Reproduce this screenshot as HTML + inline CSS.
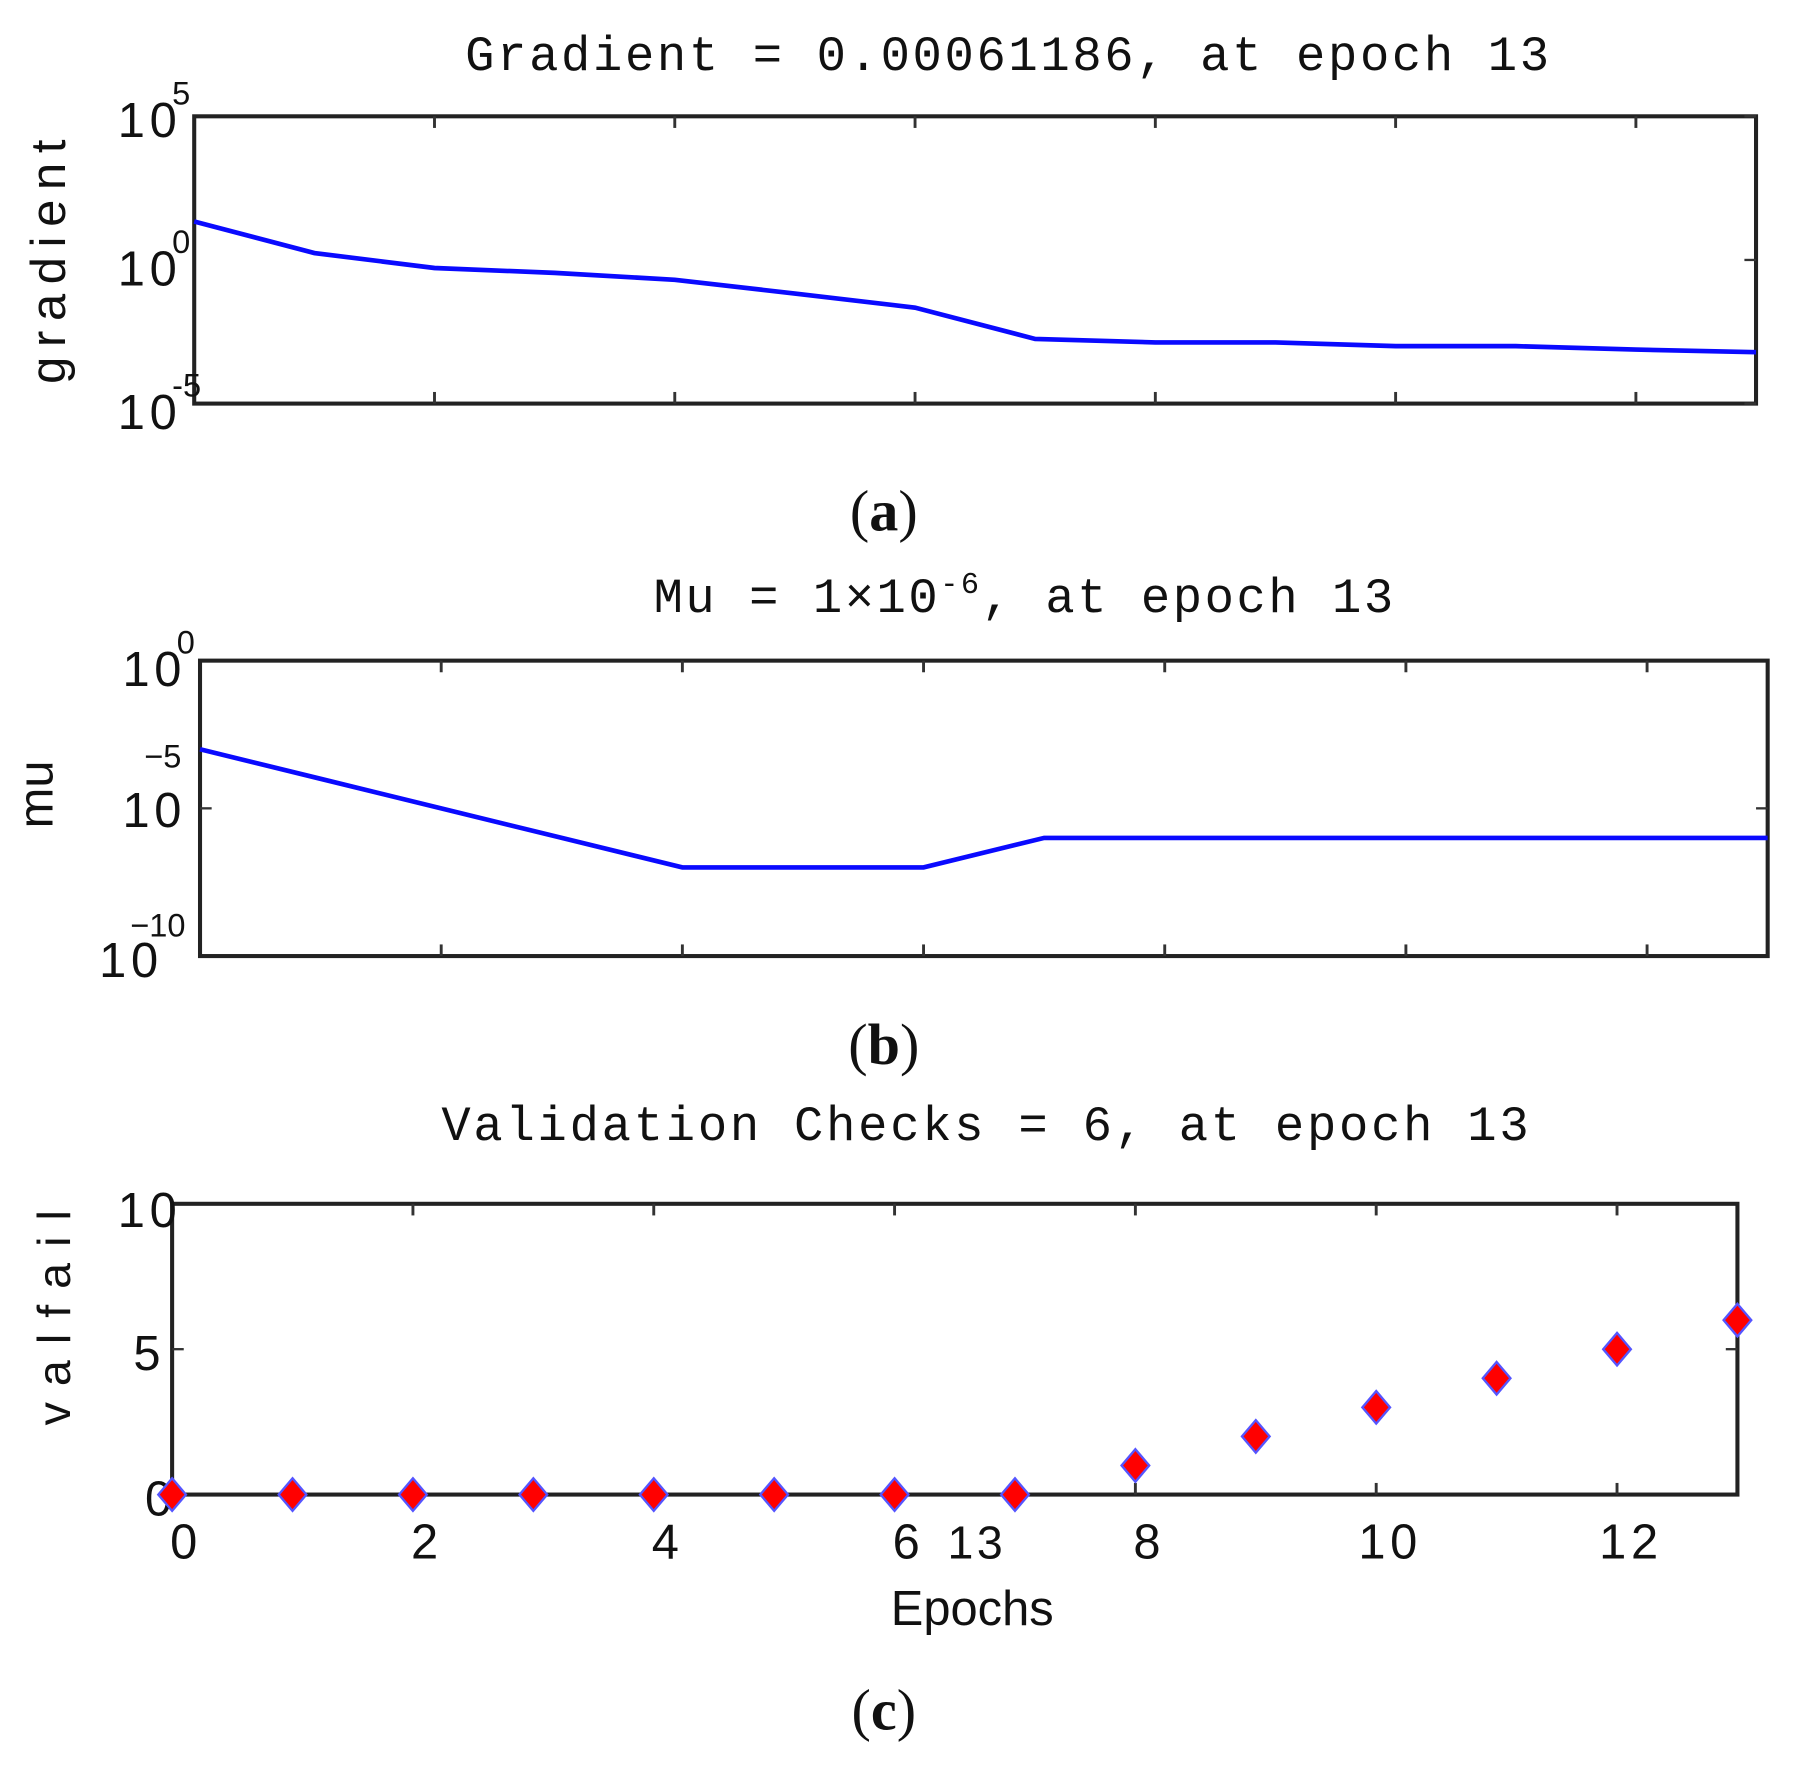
<!DOCTYPE html>
<html><head><meta charset="utf-8"><style>
html,body{margin:0;padding:0;background:#fff;}
svg{display:block;}
text{font-family:"Liberation Sans",sans-serif;fill:#111;}
.mono{font-family:"Liberation Mono",monospace;}
.cap{font-family:"Liberation Serif",serif;font-weight:bold;}
</style></head><body>
<svg id="chart" width="1820" height="1790" viewBox="0 0 1565 1539" preserveAspectRatio="none" xmlns="http://www.w3.org/2000/svg">
<g id="pa"></g>
<g id="pb"></g>
<g id="pc"></g>
<text class="mono" x="866" y="60" text-anchor="middle" font-size="42" textLength="932">Gradient = 0.00061186, at epoch 13</text>
<text class="cap" x="760" y="456" text-anchor="middle" font-size="50"><tspan font-weight="normal">(</tspan>a<tspan font-weight="normal">)</tspan></text>
<text class="mono" x="880" y="526" text-anchor="middle" font-size="42" textLength="636">Mu = 1×10<tspan dy="-16" font-size="26">-6</tspan><tspan dy="16">, at epoch 13</tspan></text>
<text class="cap" x="760" y="915" text-anchor="middle" font-size="50"><tspan font-weight="normal">(</tspan>b<tspan font-weight="normal">)</tspan></text>
<text class="mono" x="847" y="980" text-anchor="middle" font-size="42" textLength="935">Validation Checks = 6, at epoch 13</text>
<text class="cap" x="760" y="1487" text-anchor="middle" font-size="50"><tspan font-weight="normal">(</tspan>c<tspan font-weight="normal">)</tspan></text>
<text x="56" y="225" text-anchor="middle" font-size="42" textLength="210" transform="rotate(-90 56 225)">gradient</text>
<text x="45" y="683" text-anchor="middle" font-size="42" transform="rotate(-90 45 683)">mu</text>
<text x="60" y="1133" text-anchor="middle" font-size="40" textLength="185" transform="rotate(-90 60 1133)">valfail</text>
<text x="836" y="1397" text-anchor="middle" font-size="42">Epochs</text>
<text x="840" y="1340" text-anchor="middle" font-size="40" letter-spacing="3">13</text>
</svg>
<script>
const epochs=[0,1,2,3,4,5,6,7,8,9,10,11,12,13];
const gradLog=[1.34,0.24,-0.28,-0.45,-0.69,-1.17,-1.66,-2.75,-2.87,-2.87,-3.0,-3.0,-3.12,-3.21];
const muLog=[-3,-4,-5,-6,-7,-7,-7,-6,-6,-6,-6,-6,-6,-6];
const valfail=[0,0,0,0,0,0,0,0,1,2,3,4,5,6];
const xTickLabels=["0","2","4","6","8","10","12"];
const NS="http://www.w3.org/2000/svg";
function mk(tag,attrs,parent){const e=document.createElementNS(NS,tag);for(const k in attrs)e.setAttribute(k,attrs[k]);parent.appendChild(e);return e;}
function panel(g,L,R,T,B,ymin,ymax){
  const sx=v=>L+(R-L)*v/13, sy=v=>B-(B-T)*(v-ymin)/(ymax-ymin);
  const box=mk('rect',{x:L,y:T,width:R-L,height:B-T,fill:'none',stroke:'#222','stroke-width':3.5},g);
  
  
  for(let e=2;e<=12;e+=2){
    mk('line',{x1:sx(e),x2:sx(e),y1:B,y2:B-10,stroke:'#333','stroke-width':2.5},g);
    mk('line',{x1:sx(e),x2:sx(e),y1:T,y2:T+10,stroke:'#333','stroke-width':2.5},g);
  }
  return {sx,sy};
}
function ylab(g,x,y,base,exp){
  const t=mk('text',{x:x,y:y,'font-size':42,'text-anchor':'end','letter-spacing':4},g);
  t.textContent=base;
  
  
  if(exp!==null){const s=mk('text',{x:x-8,y:y-28,'font-size':28},g);s.textContent=exp;
  
  }
}
// panel a
const ga=document.getElementById('pa');
const A=panel(ga,167,1510,100,347,-5,5);
[[5],[0],[-5]].forEach(([v])=>{mk('line',{x1:1510,x2:1500,y1:A.sy(v),y2:A.sy(v),stroke:'#333','stroke-width':2},ga);});
ylab(ga,156,A.sy(5)+18,"10","5");ylab(ga,156,A.sy(0)+22,"10","0");ylab(ga,156,A.sy(-5)+22,"10","-5");
const pa=mk('polyline',{points:epochs.map((e,i)=>A.sx(e)+','+A.sy(gradLog[i])).join(' '),fill:'none',stroke:'#0a0aff','stroke-width':4},ga);


// panel b
const gb=document.getElementById('pb');
const Bp=panel(gb,172,1520,568,822,-10,0);
mk('line',{x1:1520,x2:1510,y1:Bp.sy(-5),y2:Bp.sy(-5),stroke:'#333','stroke-width':2},gb);
mk('line',{x1:172,x2:182,y1:Bp.sy(-5),y2:Bp.sy(-5),stroke:'#333','stroke-width':2},gb);
ylab(gb,160,Bp.sy(0)+22,"10","0");
ylab(gb,160,Bp.sy(-5)+16,"10",null);
let e1=mk('text',{x:124,y:660,'font-size':28},gb);e1.textContent="−5";


ylab(gb,140,Bp.sy(-10)+18,"10",null);
let e2=mk('text',{x:112,y:805,'font-size':28},gb);e2.textContent="−10";


const pb=mk('polyline',{points:epochs.map((e,i)=>Bp.sx(e)+','+Bp.sy(muLog[i])).join(' '),fill:'none',stroke:'#0a0aff','stroke-width':4},gb);


// panel c
const gc=document.getElementById('pc');
const C=panel(gc,148,1494,1035,1285,0,10);
mk('line',{x1:1494,x2:1484,y1:C.sy(5),y2:C.sy(5),stroke:'#333','stroke-width':2},gc);
mk('line',{x1:148,x2:158,y1:C.sy(5),y2:C.sy(5),stroke:'#333','stroke-width':2},gc);
ylab(gc,156,C.sy(10)+20,"10",null);ylab(gc,142,C.sy(5)+18,"5",null);ylab(gc,152,C.sy(0)+18,"0",null);
xTickLabels.forEach((l,i)=>{const t=mk('text',{x:C.sx(i*2)+12,y:1340,'font-size':42,'text-anchor':'middle','letter-spacing':4},gc);t.textContent=l;

});
epochs.forEach((e,i)=>{const x=C.sx(e),y=C.sy(valfail[i]),r=14;
const d=mk('polygon',{points:`${x},${y-r} ${x+r*0.85},${y} ${x},${y+r} ${x-r*0.85},${y}`,fill:'#f00',stroke:'#55f','stroke-width':2},gc);

});
</script>
</body></html>
